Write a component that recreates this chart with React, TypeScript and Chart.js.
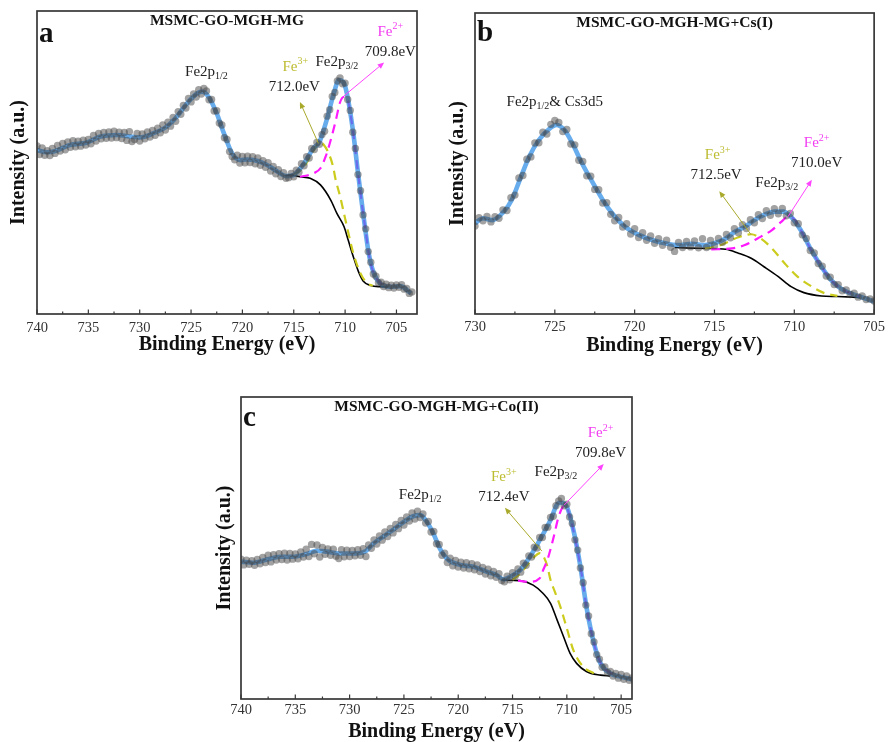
import React, { useEffect, useRef } from 'react';
import { Chart, registerables } from 'chart.js';

Chart.register(...registerables);

const SERIF = '"Liberation Serif", "Times New Roman", Times, serif';

type Pt = [number, number];
type Part = { t: string; s?: 'sub' | 'sup' };

// ---------- Panel a: MSMC-GO-MGH-MG (Fe 2p) ----------
const aEnergyStart = 740;
const aEnergyStep = 0.25;
const aCounts = [
  55.5, 52.6, 54.8, 52.4, 53.9, 52.3, 54.6, 53.0, 55.6, 53.8,
  56.3, 54.2, 56.8, 55.0, 57.2, 55.2, 57.0, 55.4, 57.4, 55.8,
  57.6, 56.2, 58.9, 57.1, 59.6, 57.8, 59.9, 58.0, 60.1, 58.1,
  60.3, 58.2, 60.0, 57.9, 59.9, 57.3, 60.2, 56.9, 57.6, 59.6,
  57.1, 59.4, 57.8, 60.1, 58.4, 60.6, 59.0, 61.3, 59.8, 62.4,
  60.7, 63.3, 62.0, 64.9, 63.6, 66.8, 65.9, 68.8, 68.0, 71.1,
  70.0, 72.6, 71.6, 74.0, 72.6, 74.4, 73.6, 70.7, 70.8, 67.0,
  67.1, 63.0, 62.4, 58.2, 57.6, 53.6, 52.0, 50.9, 52.4, 49.8,
  52.0, 49.9, 52.1, 50.0, 51.9, 49.6, 51.5, 49.1, 50.6, 48.4,
  49.9, 47.2, 48.7, 46.3, 47.6, 45.4, 46.6, 44.8, 45.0, 46.4,
  45.3, 47.5, 46.8, 49.6, 48.9, 51.9, 51.5, 54.6, 54.3, 56.6,
  56.0, 59.2, 60.3, 65.3, 67.4, 71.8, 73.1, 76.9, 77.9, 76.0,
  76.2, 70.8, 67.2, 60.0, 54.6, 46.0, 40.7, 32.7, 28.1, 20.6,
  17.1, 13.2, 12.5, 10.3, 10.5, 9.1, 9.8, 8.7, 9.5, 8.6,
  9.6, 8.8, 9.7, 8.2, 8.4, 6.8, 7.3,
];
const aEnvelope: Pt[] = [
  [740, 54.1], [739, 53.4], [738.4, 53.6], [737.5, 54.8], [736.8, 55.8], [735.2, 56.5],
  [733.9, 58.5], [732.2, 59.1], [731, 58.6], [730, 58.3], [728.7, 59.6], [727.4, 61.8],
  [726.4, 65.1], [725.4, 69.5], [724.4, 72.8], [723.9, 73.4], [723.3, 71.7], [722.5, 66.2],
  [721.8, 59.6], [721.0, 53.0], [720.2, 50.8], [719.6, 51.0], [718.6, 50.6], [717.6, 49.2],
  [716.6, 47.0], [715.7, 45.5], [715.0, 45.9], [714.0, 49.7], [713.1, 54.7], [712.5, 56.8],
  [711.8, 64.0], [711.1, 72.8], [710.6, 77.2], [710.1, 76.1], [709.7, 70.6], [709.2, 59.6],
  [708.7, 45.3], [708.2, 32.1], [707.7, 20.0], [707.2, 13.4], [706.6, 10.1], [705.6, 9.0],
  [704.6, 9.2], [704.2, 8.5], [703.6, 6.8],
];
const aBackground: Pt[] = [
  [715.8, 45.6], [715.3, 45.9], [714.4, 45.3], [713.4, 44.8], [712.4, 42.6], [711.4, 37.6],
  [710.8, 33.2], [710.1, 28.8], [709.7, 24.4], [709.2, 18.9], [708.7, 14.0], [708.2, 10.7],
  [707.5, 9.4], [706.5, 9.0], [705.8, 8.9],
];
const aFe3: Pt[] = [
  [715.0, 45.9], [714.5, 47.0], [714.0, 48.6], [713.5, 51.3], [713.0, 54.3], [712.6, 56.3],
  [712.3, 56.4], [711.9, 55.0], [711.5, 52.2], [711.2, 49.0], [710.9, 44.0], [710.5, 39.0],
  [710.1, 33.0], [709.8, 28.5], [709.2, 20.0], [708.5, 13.4], [707.9, 10.3], [707.3, 9.3],
];
const aFe2: Pt[] = [
  [714.4, 45.3], [713.6, 45.8], [713.1, 46.4], [712.4, 48.1], [711.9, 51.9], [711.4, 57.4],
  [710.9, 64.0], [710.5, 69.8], [710.1, 71.7], [709.75, 70.8], [709.5, 66.5], [709.25, 60.8],
  [709.0, 53.9], [708.75, 46.7], [708.5, 40.0], [708.25, 33.4], [708.0, 27.5], [707.75, 21.2],
  [707.5, 16.5], [707.25, 13.8], [707.0, 12.0], [706.5, 10.0], [706.0, 9.3],
];
const aTicks = [740, 735, 730, 725, 720, 715, 710, 705];

// ---------- Panel b: MSMC-GO-MGH-MG+Cs(I) ----------
const bEnergyStart = 730;
const bEnergyStep = 0.25;
const bCounts = [
  29.2, 32.0, 31.0, 32.4, 30.6, 32.3, 31.8, 34.6, 34.4, 38.6,
  39.5, 45.2, 46.0, 51.4, 52.2, 56.8, 56.9, 60.4, 59.8, 63.0,
  64.3, 63.6, 60.6, 61.3, 56.5, 56.2, 51.1, 50.7, 45.9, 45.8,
  41.4, 41.3, 36.9, 37.0, 33.1, 31.0, 32.1, 28.9, 30.0, 26.6,
  28.3, 25.4, 27.0, 24.5, 25.9, 23.5, 25.0, 22.8, 24.5, 22.2,
  20.8, 23.8, 22.1, 24.1, 22.3, 24.3, 22.0, 25.0, 22.1, 24.4,
  22.7, 25.1, 23.8, 26.4, 25.3, 28.3, 27.0, 29.7, 28.4, 31.3,
  30.3, 33.0, 31.7, 34.3, 32.8, 35.0, 33.3, 35.1, 32.6, 33.4,
  30.3, 30.0, 26.3, 25.1, 21.1, 20.3, 16.8, 15.9, 12.6, 12.2,
  9.8, 9.7, 7.7, 8.0, 6.5, 6.9, 5.6, 6.0, 4.8, 5.0,
  4.3,
];
const bEnvelope: Pt[] = [
  [730, 30.1], [729.5, 31.8], [728.9, 31.2], [728.2, 34.0], [727.7, 37.9], [727.2, 44.5],
  [726.6, 52.3], [726.0, 57.8], [725.3, 61.7], [724.9, 62.8], [724.4, 61.1], [723.9, 56.7],
  [723.3, 50.1], [722.6, 43.4], [722.0, 37.9], [721.4, 33.4], [720.6, 29.0], [719.7, 26.2],
  [718.9, 24.6], [718.1, 23.5], [717.3, 22.9], [716.4, 23.3], [715.6, 22.9], [715.0, 23.5],
  [714.3, 25.1], [713.7, 27.4], [713.1, 29.0], [712.5, 31.2], [711.9, 32.9], [711.2, 34.0],
  [710.7, 34.0], [710.2, 32.3], [709.6, 27.9], [709.0, 21.8], [708.3, 15.7], [707.7, 11.3],
  [707.1, 8.5], [706.5, 6.9], [705.9, 5.8], [705.0, 4.1],
];
const bBackground: Pt[] = [
  [717.5, 22.1], [716.5, 21.9], [715.6, 21.8], [714.3, 21.5], [713.5, 20.2], [712.7, 18.5],
  [711.9, 15.7], [711.0, 12.4], [710.2, 9.1], [709.4, 7.1], [708.3, 6.0], [707.3, 5.8],
  [705.9, 5.5],
];
const bFe3: Pt[] = [
  [715.6, 21.8], [714.6, 22.9], [713.5, 25.5], [712.7, 26.5], [712.1, 25.1], [711.4, 21.8],
  [710.6, 16.8], [709.8, 12.4], [708.9, 9.1], [708.1, 6.9], [707.3, 6.0],
];
const bFe2: Pt[] = [
  [715.2, 21.5], [713.9, 21.8], [713.1, 22.9], [712.3, 25.1], [711.4, 27.9], [710.8, 30.7],
  [710.4, 32.3], [710.0, 31.5], [709.6, 28.0], [709.0, 21.8], [708.3, 15.7], [707.7, 11.3],
  [707.1, 8.5], [706.5, 6.9], [705.9, 5.8],
];
const bTicks = [730, 725, 720, 715, 710, 705];

// ---------- Panel c: MSMC-GO-MGH-MG+Co(II) ----------
const cEnergyStart = 740;
const cEnergyStep = 0.25;
const cCounts = [
  46.3, 44.4, 46.0, 44.6, 45.8, 44.3, 46.2, 44.8, 46.9, 45.2,
  47.6, 45.4, 47.8, 46.0, 48.1, 46.2, 48.3, 46.0, 48.2, 46.3,
  48.0, 46.4, 48.7, 47.0, 49.6, 47.2, 51.2, 48.1, 51.0, 47.0,
  50.2, 47.9, 49.7, 47.6, 49.6, 47.3, 46.5, 49.4, 47.1, 49.3,
  47.2, 49.2, 47.4, 49.4, 47.6, 49.8, 47.2, 51.0, 49.9, 52.7,
  51.3, 54.0, 52.6, 55.3, 53.8, 56.5, 55.0, 57.8, 56.4, 59.1,
  57.6, 60.3, 58.9, 61.6, 59.6, 62.2, 60.1, 61.3, 58.3, 58.8,
  55.3, 55.5, 51.4, 51.2, 47.6, 48.3, 45.2, 46.6, 44.1, 45.9,
  43.7, 45.3, 43.4, 45.1, 43.1, 44.8, 42.8, 44.4, 42.2, 43.6,
  41.4, 43.0, 40.8, 42.2, 40.3, 41.5, 39.2, 38.8, 40.7, 39.5,
  41.8, 40.7, 43.1, 42.0, 45.0, 44.3, 47.4, 47.0, 50.3, 50.0,
  53.5, 53.5, 56.8, 56.9, 60.1, 60.5, 64.0, 65.6, 66.4, 64.0,
  64.5, 60.3, 58.1, 52.7, 49.3, 43.4, 38.5, 31.1, 27.5, 21.6,
  18.9, 14.7, 13.2, 10.5, 10.6, 8.8, 9.1, 7.6, 8.5, 6.9,
  8.1, 6.5, 7.6, 6.2, 7.0,
];
const cEnvelope: Pt[] = [
  [740, 45.5], [738.9, 45.1], [737.6, 46.2], [736.4, 47.1], [735.2, 47.1], [734.0, 48.0],
  [733.0, 49.1], [732.1, 48.8], [730.9, 48.2], [729.7, 48.2], [728.6, 48.8], [727.8, 51.5],
  [726.9, 53.8], [726.0, 56.0], [725.0, 58.7], [724.1, 60.6], [723.5, 60.9], [722.9, 58.7],
  [722.3, 54.9], [721.7, 49.9], [720.9, 46.0], [719.8, 44.4], [718.6, 43.8], [717.4, 42.2],
  [716.5, 41.1], [715.8, 39.6], [715.2, 40.5], [714.3, 42.7], [713.4, 47.1], [712.5, 52.6],
  [711.5, 59.3], [710.8, 64.8], [710.5, 65.0], [710.0, 63.7], [709.4, 56.0], [708.8, 44.9],
  [708.2, 30.6], [707.5, 18.4], [706.9, 11.8], [706.0, 8.5], [705.1, 7.4], [704.0, 6.5],
];
const cBackground: Pt[] = [
  [716.0, 39.4], [715.0, 39.3], [714.3, 39.2], [713.1, 37.7], [712.2, 35.0], [711.5, 31.7],
  [710.9, 26.2], [710.3, 20.6], [709.7, 15.1], [709.1, 11.8], [708.2, 9.1], [706.9, 7.9],
  [706.0, 7.6],
];
const cFe3: Pt[] = [
  [715.0, 39.5], [714.3, 41.5], [713.6, 44.5], [713.0, 47.0], [712.5, 48.3], [712.2, 47.5],
  [711.8, 44.0], [711.5, 39.4], [711.1, 35.5], [710.6, 30.6], [710.0, 23.4], [709.4, 16.2],
  [708.5, 10.7], [707.5, 8.5],
];
const cFe2: Pt[] = [
  [714.5, 39.2], [713.5, 38.8], [712.5, 40.0], [712.2, 42.5], [711.7, 47.1], [711.2, 53.8],
  [710.8, 59.8], [710.4, 63.5], [710.2, 64.0], [709.75, 61.0], [709.25, 53.3], [708.75, 44.0],
  [708.25, 31.8], [707.75, 22.2], [707.25, 15.2], [706.75, 11.0], [706.25, 9.2], [705.75, 8.2],
];
const cTicks = [740, 735, 730, 725, 720, 715, 710, 705];

// ---------- colours ----------
const OLIVE_LINE = '#cccc1e';
const OLIVE_TEXT = '#bcbc30';
const OLIVE_ARROW = '#a9a92c';
const MAGENTA_LINE = '#ff1aff';
const MAGENTA_TEXT = '#f23cf2';
const MAGENTA_ARROW = '#ff44ff';
const TEXT = '#222';

interface Label { x: number; y: number; parts: Part[]; color: string }
interface Arrow { from: Pt; to: Pt; color: string }

interface Panel {
  letter: string;
  title: string;
  left: number; top: number; width: number; height: number;
  padTop: number; padRight: number;
  yWidth: number; xHeight: number;
  tickPad: number; xTitlePad: number; yTitlePad: number; letterBase: number;
  xMin: number; xMax: number; ticks: number[];
  start: number; step: number; counts: number[];
  envelope: Pt[]; background: Pt[]; fe3: Pt[]; fe2: Pt[];
  labels: Label[]; arrows: Arrow[];
}

const fe2p = (sub: string): Part[] => [{ t: 'Fe2p' }, { t: sub, s: 'sub' }];
const ion = (charge: string): Part[] => [{ t: 'Fe' }, { t: charge, s: 'sup' }];

const panels: Panel[] = [
  {
    letter: 'a', title: 'MSMC-GO-MGH-MG',
    left: 0, top: 0, width: 430, height: 362,
    padTop: 11, padRight: 13, yWidth: 37, xHeight: 48,
    tickPad: 5, xTitlePad: 5, yTitlePad: 7, letterBase: 31,
    xMin: 703, xMax: 740, ticks: aTicks,
    start: aEnergyStart, step: aEnergyStep, counts: aCounts,
    envelope: aEnvelope, background: aBackground, fe3: aFe3, fe2: aFe2,
    labels: [
      { x: 723.5, y: 79.9, parts: fe2p('1/2'), color: TEXT },
      { x: 714.85, y: 81.6, parts: ion('3+'), color: OLIVE_TEXT },
      { x: 710.8, y: 83.3, parts: fe2p('3/2'), color: TEXT },
      { x: 714.95, y: 75.0, parts: [{ t: '712.0eV' }], color: TEXT },
      { x: 705.6, y: 93.2, parts: ion('2+'), color: MAGENTA_TEXT },
      { x: 705.6, y: 86.6, parts: [{ t: '709.8eV' }], color: TEXT },
    ],
    arrows: [
      { from: [712.6, 56.3], to: [714.4, 70.0], color: OLIVE_ARROW },
      { from: [710.1, 72.0], to: [706.2, 83.0], color: MAGENTA_ARROW },
    ],
  },
  {
    letter: 'b', title: 'MSMC-GO-MGH-MG+Cs(I)',
    left: 440, top: 0, width: 449, height: 362,
    padTop: 13, padRight: 12, yWidth: 35, xHeight: 48,
    tickPad: 4, xTitlePad: 4, yTitlePad: 6, letterBase: 28,
    xMin: 705, xMax: 730, ticks: bTicks,
    start: bEnergyStart, step: bEnergyStep, counts: bCounts,
    envelope: bEnvelope, background: bBackground, fe3: bFe3, fe2: bFe2,
    labels: [
      { x: 725.0, y: 70.5, parts: [{ t: 'Fe2p' }, { t: '1/2', s: 'sub' }, { t: '& Cs3d5' }], color: TEXT },
      { x: 714.8, y: 52.8, parts: ion('3+'), color: OLIVE_TEXT },
      { x: 714.9, y: 46.2, parts: [{ t: '712.5eV' }], color: TEXT },
      { x: 711.1, y: 43.4, parts: fe2p('3/2'), color: TEXT },
      { x: 708.6, y: 56.7, parts: ion('2+'), color: MAGENTA_TEXT },
      { x: 708.6, y: 50.3, parts: [{ t: '710.0eV' }], color: TEXT },
    ],
    arrows: [
      { from: [712.7, 26.3], to: [714.7, 40.8], color: OLIVE_ARROW },
      { from: [710.4, 32.3], to: [708.9, 44.6], color: MAGENTA_ARROW },
    ],
  },
  {
    letter: 'c', title: 'MSMC-GO-MGH-MG+Co(II)',
    left: 200, top: 385, width: 450, height: 357,
    padTop: 12, padRight: 18, yWidth: 41, xHeight: 43,
    tickPad: 2, xTitlePad: -2, yTitlePad: 13, letterBase: 29,
    xMin: 704, xMax: 740, ticks: cTicks,
    start: cEnergyStart, step: cEnergyStep, counts: cCounts,
    envelope: cEnvelope, background: cBackground, fe3: cFe3, fe2: cFe2,
    labels: [
      { x: 723.5, y: 67.5, parts: fe2p('1/2'), color: TEXT },
      { x: 715.8, y: 73.4, parts: ion('3+'), color: OLIVE_TEXT },
      { x: 715.8, y: 67.0, parts: [{ t: '712.4eV' }], color: TEXT },
      { x: 711.0, y: 75.3, parts: fe2p('3/2'), color: TEXT },
      { x: 706.9, y: 88.0, parts: ion('2+'), color: MAGENTA_TEXT },
      { x: 706.9, y: 81.6, parts: [{ t: '709.8eV' }], color: TEXT },
    ],
    arrows: [
      { from: [712.3, 49.0], to: [715.7, 63.3], color: OLIVE_ARROW },
      { from: [710.25, 64.2], to: [706.6, 77.8], color: MAGENTA_ARROW },
    ],
  },
];

const toXY = (pts: Pt[]) => pts.map(([x, y]) => ({ x, y }));

function drawRich(ctx: CanvasRenderingContext2D, parts: Part[], x: number, y: number, color: string) {
  const size = 15;
  const main = `${size}px ${SERIF}`;
  const small = `${10}px ${SERIF}`;
  const widths = parts.map((p) => {
    ctx.font = p.s ? small : main;
    return ctx.measureText(p.t).width;
  });
  const total = widths.reduce((a, b) => a + b, 0);
  let cx = x - total / 2;
  ctx.fillStyle = color;
  ctx.textAlign = 'left';
  ctx.textBaseline = 'middle';
  parts.forEach((p, i) => {
    ctx.font = p.s ? small : main;
    const dy = p.s === 'sub' ? 4.5 : p.s === 'sup' ? -5 : 0;
    ctx.fillText(p.t, cx, y + dy);
    cx += widths[i];
  });
}

function drawArrow(ctx: CanvasRenderingContext2D, x0: number, y0: number, x1: number, y1: number, color: string) {
  const ang = Math.atan2(y1 - y0, x1 - x0);
  const head = 6.5;
  const half = 2.8;
  ctx.strokeStyle = color;
  ctx.fillStyle = color;
  ctx.lineWidth = 1;
  ctx.setLineDash([]);
  ctx.beginPath();
  ctx.moveTo(x0, y0);
  ctx.lineTo(x1 - Math.cos(ang) * head * 0.8, y1 - Math.sin(ang) * head * 0.8);
  ctx.stroke();
  ctx.beginPath();
  ctx.moveTo(x1, y1);
  ctx.lineTo(x1 - head * Math.cos(ang) + half * Math.sin(ang), y1 - head * Math.sin(ang) - half * Math.cos(ang));
  ctx.lineTo(x1 - head * Math.cos(ang) - half * Math.sin(ang), y1 - head * Math.sin(ang) + half * Math.cos(ang));
  ctx.closePath();
  ctx.fill();
}

function decorations(p: Panel) {
  return {
    id: 'decor_' + p.letter,
    afterDatasetsDraw(chart: any) {
      const { ctx, chartArea: ca, scales } = chart;
      const xs = scales.x;
      const ys = scales.y;
      ctx.save();

      for (const a of p.arrows) {
        drawArrow(
          ctx,
          xs.getPixelForValue(a.from[0]), ys.getPixelForValue(a.from[1]),
          xs.getPixelForValue(a.to[0]), ys.getPixelForValue(a.to[1]),
          a.color,
        );
      }
      for (const l of p.labels) {
        drawRich(ctx, l.parts, xs.getPixelForValue(l.x), ys.getPixelForValue(l.y), l.color);
      }

      // frame
      ctx.strokeStyle = '#383838';
      ctx.lineWidth = 1.7;
      ctx.strokeRect(ca.left, ca.top, ca.right - ca.left, ca.bottom - ca.top);

      // inward major / minor ticks on the energy axis
      ctx.lineWidth = 1.2;
      for (const t of p.ticks) {
        const px = xs.getPixelForValue(t);
        ctx.beginPath();
        ctx.moveTo(px, ca.bottom);
        ctx.lineTo(px, ca.bottom - 4.5);
        ctx.stroke();
        const m = t - 2.5;
        if (m >= p.xMin) {
          const mx = xs.getPixelForValue(m);
          ctx.beginPath();
          ctx.moveTo(mx, ca.bottom);
          ctx.lineTo(mx, ca.bottom - 2.5);
          ctx.stroke();
        }
      }

      // panel letter and sample name
      ctx.fillStyle = '#111';
      ctx.textBaseline = 'alphabetic';
      ctx.textAlign = 'left';
      ctx.font = `bold 29px ${SERIF}`;
      ctx.fillText(p.letter, ca.left + 2, ca.top + p.letterBase);
      ctx.textAlign = 'center';
      ctx.textBaseline = 'middle';
      ctx.font = `bold 15.5px ${SERIF}`;
      ctx.fillText(p.title, (ca.left + ca.right) / 2, ca.top + 10);

      ctx.restore();
    },
  };
}

function buildConfig(p: Panel): any {
  const points = p.counts.map((c, i) => ({ x: p.start - i * p.step, y: c }));
  const line = { pointRadius: 0, cubicInterpolationMode: 'monotone', fill: false };
  return {
    type: 'line',
    data: {
      datasets: [
        {
          label: 'Raw', data: points, showLine: false, pointRadius: 3.7,
          pointBackgroundColor: 'rgba(70,70,70,0.5)', pointBorderWidth: 0, order: 0,
        },
        {
          ...line, label: 'Fitted', data: toXY(p.envelope),
          borderColor: 'rgba(45,140,228,0.72)', borderWidth: 4.6, order: 1,
        },
        {
          ...line, label: 'Fe2+', data: toXY(p.fe2),
          borderColor: MAGENTA_LINE, borderWidth: 2.2, borderDash: [9, 6], order: 2,
        },
        {
          ...line, label: 'Fe3+', data: toXY(p.fe3),
          borderColor: OLIVE_LINE, borderWidth: 2.2, borderDash: [9, 6], order: 3,
        },
        {
          ...line, label: 'Background', data: toXY(p.background),
          borderColor: '#000', borderWidth: 1.6, order: 4,
        },
      ],
    },
    options: {
      responsive: false,
      animation: false,
      devicePixelRatio: 1,
      layout: { padding: { top: p.padTop, right: p.padRight, left: 0, bottom: 0 } },
      plugins: { legend: { display: false }, tooltip: { enabled: false }, title: { display: false } },
      scales: {
        x: {
          type: 'linear', reverse: true, min: p.xMin, max: p.xMax,
          afterBuildTicks: (s: any) => { s.ticks = p.ticks.map((v) => ({ value: v })); },
          afterFit: (s: any) => { s.height = p.xHeight; },
          grid: { display: false, drawTicks: false },
          border: { display: false },
          ticks: {
            color: '#333', padding: p.tickPad, maxRotation: 0, autoSkip: false,
            font: { family: SERIF, size: 14.5 },
          },
          title: {
            display: true, text: 'Binding Energy (eV)', color: '#111',
            font: { family: SERIF, size: 20, weight: 'bold' },
            padding: { top: 0, bottom: p.xTitlePad },
          },
        },
        y: {
          type: 'linear', min: 0, max: 100,
          afterFit: (s: any) => { s.width = p.yWidth; },
          grid: { display: false, drawTicks: false },
          border: { display: false },
          ticks: { display: false },
          title: {
            display: true, text: 'Intensity (a.u.)', color: '#111',
            font: { family: SERIF, size: 20, weight: 'bold' },
            padding: { top: p.yTitlePad, bottom: 0 },
          },
        },
      },
    },
    plugins: [decorations(p)],
  };
}

function XpsPanel({ panel }: { panel: Panel }) {
  const ref = useRef<HTMLCanvasElement | null>(null);
  useEffect(() => {
    if (!ref.current) return;
    const chart = new Chart(ref.current, buildConfig(panel));
    return () => chart.destroy();
  }, [panel]);
  return (
    <canvas
      ref={ref}
      width={panel.width}
      height={panel.height}
      style={{ position: 'absolute', left: panel.left, top: panel.top, width: panel.width, height: panel.height }}
    />
  );
}

export default function App() {
  return (
    <div style={{ position: 'absolute', left: 0, top: 0, width: 889, height: 742, background: '#fff', overflow: 'hidden' }}>
      {panels.map((p) => (
        <XpsPanel key={p.letter} panel={p} />
      ))}
    </div>
  );
}
